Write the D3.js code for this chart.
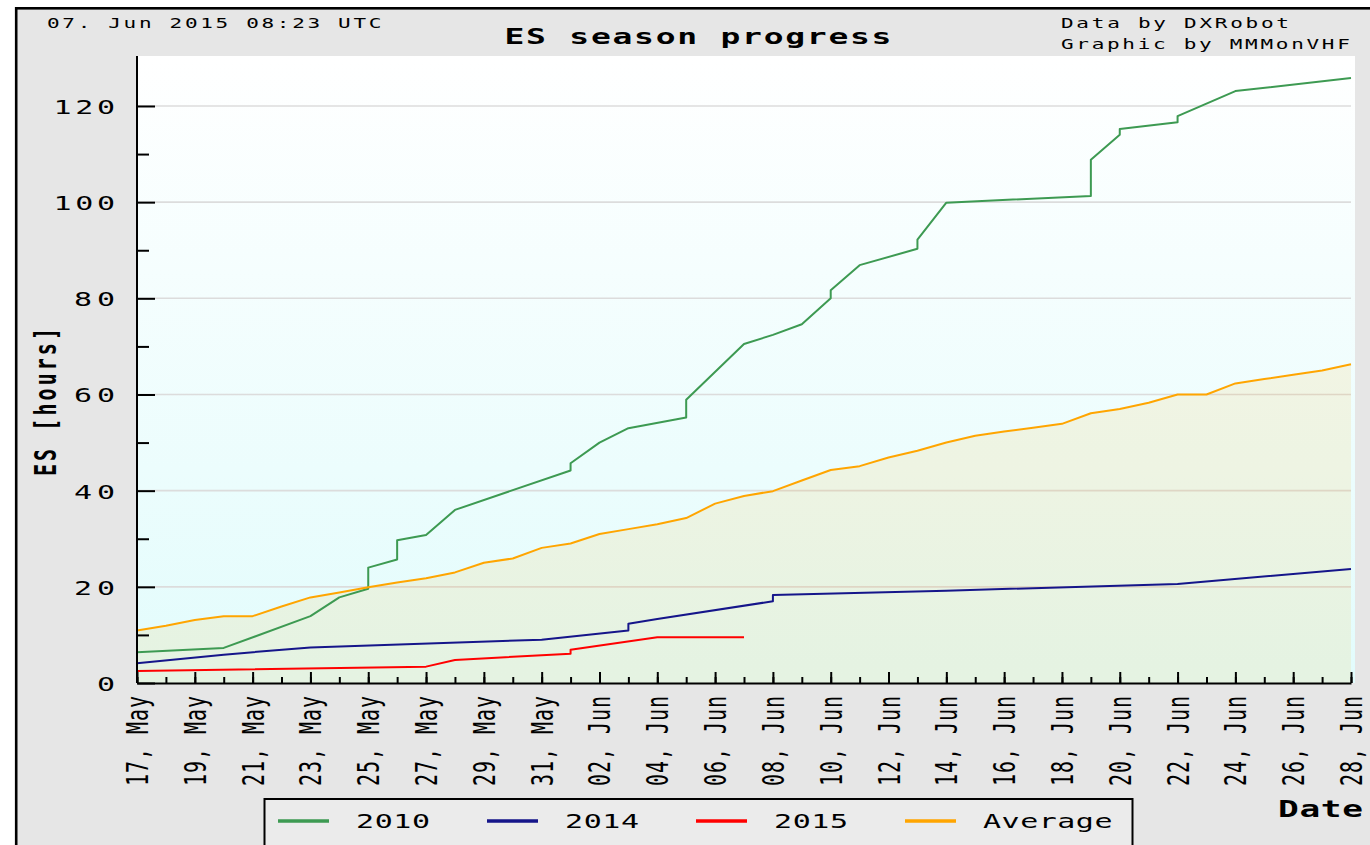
<!DOCTYPE html>
<html>
<head>
<meta charset="utf-8">
<script src="https://cdn.jsdelivr.net/npm/d3@7"></script>
<style>
  html, body { margin: 0; padding: 0; background: #ffffff; }
  svg { display: block; }
  text { font-family: "DejaVu Sans Mono", "Liberation Mono", monospace; fill: #000; }
</style>
</head>
<body>
<svg id="chart" width="1370" height="845"></svg>
<script>
// ---------------- DATA ----------------
const seriesNames = ["2010", "2014", "2015", "Average"];
const seriesColors = ["#3d9a52", "#15158a", "#ff0000", "#ffa500"];

// 2010 (vertical steps are repeated dates)
const dates2010 = ["2015-05-17","2015-05-20","2015-05-23","2015-05-24","2015-05-25","2015-05-25",
  "2015-05-26","2015-05-26","2015-05-27","2015-05-28","2015-06-01","2015-06-01","2015-06-02",
  "2015-06-03","2015-06-05","2015-06-05","2015-06-07","2015-06-08","2015-06-09","2015-06-10",
  "2015-06-10","2015-06-11","2015-06-13","2015-06-13","2015-06-14","2015-06-19","2015-06-19",
  "2015-06-20","2015-06-20","2015-06-22","2015-06-22","2015-06-24","2015-06-28"];
const values2010 = [6.4,7.3,13.9,17.8,19.6,24.0,25.7,29.7,30.8,36.0,44.2,45.7,50.0,
  53.0,55.2,58.9,70.5,72.4,74.6,80.0,81.7,86.9,90.3,92.2,99.9,101.3,108.8,
  114.0,115.2,116.6,117.9,123.1,125.8];

const dates2014 = ["2015-05-17","2015-05-20","2015-05-23","2015-05-31","2015-06-03","2015-06-03",
  "2015-06-04","2015-06-08","2015-06-08","2015-06-14","2015-06-22","2015-06-28"];
const values2014 = [4.1,5.9,7.4,9.0,10.9,12.3,13.3,17.0,18.3,19.2,20.6,23.7];

const dates2015 = ["2015-05-17","2015-05-27","2015-05-28","2015-06-01","2015-06-01","2015-06-04","2015-06-07"];
const values2015 = [2.5,3.4,4.8,6.1,6.9,9.5,9.5];

// Average: one value per day, 17 May .. 28 Jun
const avgStart = "2015-05-17";
const valuesAvg = [10.9,11.9,13.1,13.9,13.9,15.9,17.8,18.8,19.9,20.9,21.8,23.0,25.0,25.9,28.1,
  29.0,31.0,32.0,33.0,34.3,37.3,38.9,39.9,42.1,44.3,45.1,46.9,48.3,50.0,51.4,52.3,53.1,53.9,
  56.1,57.0,58.3,60.0,60.0,62.3,63.2,64.1,65.0,66.3];

const xDomain = ["2015-05-17", "2015-06-28"];
const xTickDates = ["2015-05-17","2015-05-19","2015-05-21","2015-05-23","2015-05-25","2015-05-27",
  "2015-05-29","2015-05-31","2015-06-02","2015-06-04","2015-06-06","2015-06-08","2015-06-10",
  "2015-06-12","2015-06-14","2015-06-16","2015-06-18","2015-06-20","2015-06-22","2015-06-24",
  "2015-06-26","2015-06-28"];
const xTickLabels = ["17, May","19, May","21, May","23, May","25, May","27, May","29, May","31, May",
  "02, Jun","04, Jun","06, Jun","08, Jun","10, Jun","12, Jun","14, Jun","16, Jun","18, Jun",
  "20, Jun","22, Jun","24, Jun","26, Jun","28, Jun"];
const yMajorTicks = [0,20,40,60,80,100,120];
const yMinorTicks = [10,30,50,70,90,110];
const yTickLabels = ["0","20","40","60","80","100","120"];

const titleText = "ES season progress";
const stampText = "07. Jun 2015 08:23 UTC";
const creditLines = ["Data by DXRobot", "Graphic by MMMonVHF"];
const yAxisTitle = "ES [hours]";
const xAxisTitle = "Date";

// ---------------- SETUP ----------------
const parse = d3.timeParse("%Y-%m-%d");
const svg = d3.select("#chart");
const SX = 1.5; // horizontal glyph stretch

const pl = 137, pr = 1351, pt = 56, pb = 683;
const x = d3.scaleTime().domain(xDomain.map(parse)).range([pl, pr]);
const y = d3.scaleLinear().domain([0, 130]).range([pb, 57.9]);

function hText(g, str, px, py, o) {
  const t = g.append("text")
    .attr("transform", `translate(${px},${py}) scale(${SX},1)`)
    .attr("text-anchor", o.anchor || "start")
    .attr("font-size", o.size)
    .attr("font-weight", o.weight || "normal")
    .text(str);
  if (o.len) t.attr("textLength", o.len / SX).attr("lengthAdjust", "spacing");
  return t;
}
function vText(g, str, px, py, o) {
  const t = g.append("text")
    .attr("transform", `translate(${px},${py}) rotate(-90) scale(1,${SX})`)
    .attr("text-anchor", o.anchor || "start")
    .attr("font-size", o.size)
    .attr("font-weight", o.weight || "normal")
    .text(str);
  if (o.len) t.attr("textLength", o.len).attr("lengthAdjust", "spacing");
  return t;
}

// outer frame
svg.append("rect").attr("x", 16.2).attr("y", 8.3).attr("width", 1400).attr("height", 900)
  .attr("fill", "#e6e6e6").attr("stroke", "#000").attr("stroke-width", 2.6);

// gradient bg
const defs = svg.append("defs");
const grad = defs.append("linearGradient").attr("id", "bg").attr("x1", 0).attr("y1", 0).attr("x2", 0).attr("y2", 1);
grad.append("stop").attr("offset", "0%").attr("stop-color", "#ffffff");
grad.append("stop").attr("offset", "100%").attr("stop-color", "#e2fcfc");
svg.append("rect").attr("x", pl).attr("y", pt).attr("width", 1355 - pl).attr("height", pb - pt)
  .attr("fill", "url(#bg)");

// gridlines
svg.append("g").selectAll("line").data(yMajorTicks.filter(v => v > 0)).join("line")
  .attr("x1", pl).attr("x2", pr).attr("y1", d => y(d)).attr("y2", d => y(d))
  .attr("stroke", "#dcdcdc").attr("stroke-width", 1.6);

// average fill
const avgData = valuesAvg.map((v, i) => ({ date: d3.timeDay.offset(parse(avgStart), i), value: v }));
svg.append("path").datum(avgData)
  .attr("d", d3.area().x(d => x(d.date)).y0(y(0)).y1(d => y(d.value)))
  .attr("fill", "#ffa500").attr("fill-opacity", 0.1);

// lines
const mk = (ds, vs) => ds.map((d, i) => ({ date: parse(d), value: vs[i] }));
const allSeries = [mk(dates2010, values2010), mk(dates2014, values2014), mk(dates2015, values2015), avgData];
const line = d3.line().x(d => x(d.date)).y(d => y(d.value));
allSeries.forEach((s, i) => {
  svg.append("path").datum(s).attr("d", line).attr("fill", "none")
    .attr("stroke", seriesColors[i]).attr("stroke-width", 2).attr("stroke-linejoin", "round");
});

// axes
function styleAxis(g) {
  g.selectAll("path,line").attr("stroke", "#000").attr("stroke-width", 2);
  g.selectAll("text").remove();
}
svg.append("g").attr("transform", `translate(${pl},0)`)
  .call(d3.axisLeft(y).tickValues(yMinorTicks).tickSize(-12).tickSizeOuter(0).tickFormat(""))
  .call(styleAxis).call(g => g.select(".domain").remove());
svg.append("g").attr("transform", `translate(${pl},0)`)
  .call(d3.axisLeft(y).tickValues(yMajorTicks).tickSize(-18).tickSizeOuter(0).tickFormat(""))
  .call(styleAxis).call(g => g.select(".domain").attr("d", `M0,${pb}V${pt}`));

const allDays = d3.timeDay.range(x.domain()[0], d3.timeDay.offset(x.domain()[1], 1));
svg.append("g").attr("transform", `translate(0,${pb})`)
  .call(d3.axisBottom(x).tickValues(allDays).tickSize(-6).tickSizeOuter(0).tickFormat(""))
  .call(styleAxis).call(g => g.select(".domain").remove());
svg.append("g").attr("transform", `translate(0,${pb})`)
  .call(d3.axisBottom(x).tickValues(xTickDates.map(parse)).tickSize(-11).tickSizeOuter(0).tickFormat(""))
  .call(styleAxis);

// y tick labels
const gl = svg.append("g");
yMajorTicks.forEach((v, i) => {
  const s = yTickLabels[i];
  hText(gl, s, 115, y(v) + 8, { size: 20, anchor: "end", len: s.length * 20.5 });
});
// x tick labels
xTickDates.forEach((d, i) => {
  vText(gl, xTickLabels[i], x(parse(d)) + 11, 696, { size: 20, anchor: "end", len: 90 });
});

// titles
hText(gl, titleText, 698, 44, { size: 22, weight: "bold", anchor: "middle", len: 387 });
hText(gl, stampText, 47, 28, { size: 14, len: stampText.length * 15.2 });
creditLines.forEach((s, i) => hText(gl, s, 1061, 28 + i * 21, { size: 14, len: s.length * 15.2 }));
vText(gl, yAxisTitle, 56, 402, { size: 20, weight: "bold", anchor: "middle", len: 148 });
hText(gl, xAxisTitle, 1278, 817, { size: 23, weight: "bold", len: 85 });

// legend
const lg = svg.append("g");
lg.append("rect").attr("x", 264.5).attr("y", 799).attr("width", 868).attr("height", 80)
  .attr("fill", "#ebebeb").attr("stroke", "#000").attr("stroke-width", 2);
seriesNames.forEach((n, i) => {
  const x0 = 278 + i * 209;
  lg.append("line").attr("x1", x0).attr("x2", x0 + 51).attr("y1", 821).attr("y2", 821)
    .attr("stroke", seriesColors[i]).attr("stroke-width", 3.5);
  hText(lg, n, x0 + 78, 828, { size: 20, len: n.length * 18.5 });
});
</script>
</body>
</html>
